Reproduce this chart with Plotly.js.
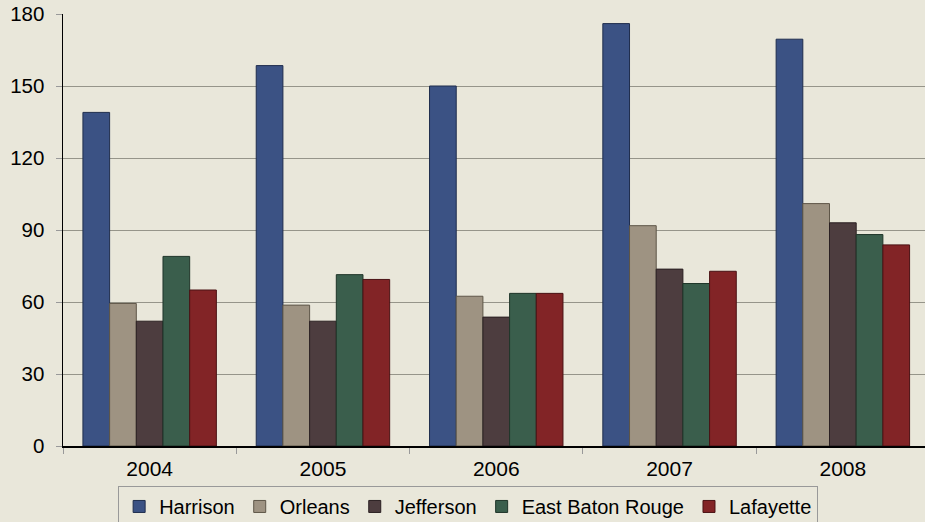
<!DOCTYPE html>
<html>
<head>
<meta charset="utf-8">
<script src="https://cdn.plot.ly/plotly-3.0.1.min.js"></script>
<style>html,body{margin:0;padding:0;background:#E9E7DA;}#chart{width:925px;height:522px;}</style>
</head>
<body>
<div id="chart"></div>
<script>
const years = ['2004', '2005', '2006', '2007', '2008'];
const harrison = [139, 158.5, 150, 176, 169.5];
const orleans = [59.4, 58.7, 62.4, 91.8, 101];
const jefferson = [52, 52, 53.7, 73.7, 93];
const eastBatonRouge = [79, 71.4, 63.6, 67.7, 88.1];
const lafayette = [65, 69.4, 63.6, 72.8, 83.8];
const seriesNames = ['Harrison', 'Orleans', 'Jefferson', 'East Baton Rouge', 'Lafayette'];
const yTicks = [0, 30, 60, 90, 120, 150, 180];

const colors = ['#3B5284', '#9E9382', '#4D3D3F', '#3A5E4C', '#822426'];
const lines = ['#1f2d4d', '#5e5648', '#2a2022', '#1f3529', '#4a1214'];
const data = [harrison, orleans, jefferson, eastBatonRouge, lafayette].map((vals, i) => ({
  type: 'bar',
  name: seriesNames[i],
  x: years,
  y: vals,
  marker: {color: colors[i], line: {color: lines[i], width: 1}},
  hoverinfo: 'skip'
}));

const layout = {
  width: 925,
  height: 522,
  paper_bgcolor: '#E9E7DA',
  plot_bgcolor: '#E9E7DA',
  margin: {l: 63, r: 0, t: 13.5, b: 76, autoexpand: false},
  barmode: 'group',
  bargap: 0.23,
  bargroupgap: 0,
  font: {family: '"Liberation Sans", Arial, sans-serif', color: '#000'},
  xaxis: {
    type: 'category',
    range: [-0.5, 4.474],
    showline: true,
    linecolor: '#000',
    linewidth: 1.5,
    ticks: 'outside',
    tickson: 'boundaries',
    ticklen: 6,
    tickcolor: '#999',
    tickfont: {size: 21},
    ticklabelstandoff: 3,
    showgrid: false,
    zeroline: false
  },
  yaxis: {
    range: [0, 180],
    tickvals: yTicks,
    ticktext: yTicks.map(String),
    showline: true,
    linecolor: '#000',
    linewidth: 1.5,
    ticks: 'outside',
    ticklen: 6,
    tickcolor: '#999',
    tickfont: {size: 20.5},
    ticklabelstandoff: 7,
    showgrid: true,
    gridcolor: '#96958A',
    gridwidth: 1,
    zeroline: false
  },
  showlegend: true,
  legend: {
    orientation: 'h',
    x: 0.47,
    xanchor: 'center',
    y: -0.0925,
    yanchor: 'top',
    bgcolor: '#E9E7DA',
    bordercolor: '#999',
    borderwidth: 1,
    font: {size: 20},
    itemclick: false,
    itemdoubleclick: false
  }
};

Plotly.newPlot('chart', data, layout, {displayModeBar: false, staticPlot: true});
</script>
</body>
</html>
